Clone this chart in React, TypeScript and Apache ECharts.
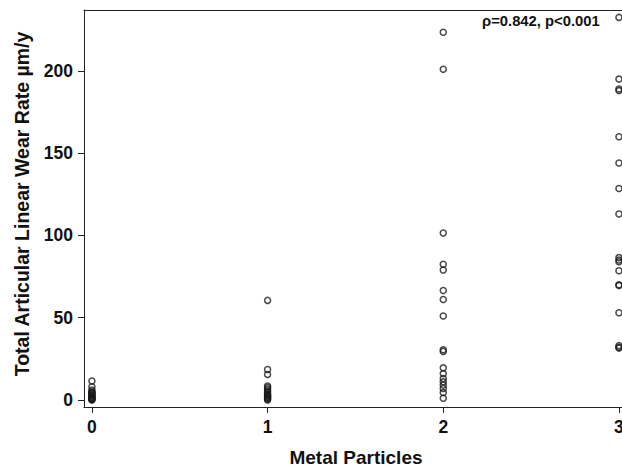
import React, { useEffect, useRef } from "react";
import * as echarts from "echarts";

// Wear rate (µm/y) per metal particle grade
const grade0: number[] = [11.5, 8, 6, 5, 4.5, 4, 3.5, 3, 2.5, 2, 1.5, 1, 0.8, 0.5, 0.3, 0];
const grade1: number[] = [60.5, 18.5, 15.5, 8.5, 7.5, 6.5, 5.5, 4.5, 3.5, 3, 2.5, 2, 1.5, 1, 0.5, 0];
const grade2: number[] = [223.5, 201, 101.5, 82.5, 79, 66.5, 61, 51, 30.5, 29.5, 19.5, 16, 13, 11, 9, 7, 4.5, 1];
const grade3: number[] = [232.5, 195, 189, 188, 160, 144, 128.5, 113, 86.5, 85, 84, 78.5, 70, 69.5, 53, 33, 32, 31.5];
const grades: number[][] = [grade0, grade1, grade2, grade3];
const xTicks: number[] = [0, 1, 2, 3];
const yTicks: number[] = [0, 50, 100, 150, 200];
const annotation = "ρ=0.842, p<0.001";
const xTitle = "Metal Particles";
const yTitle = "Total Articular Linear Wear Rate µm/y";

const FONT = "'Liberation Sans', Arial, sans-serif";
const X_MIN = -0.045;
const X_MAX = 3.063;

export default function App() {
  const ref = useRef<HTMLDivElement>(null);
  useEffect(() => {
    if (!ref.current) return;
    const chart = echarts.init(ref.current, undefined, { renderer: "svg" });
    const points: number[][] = [];
    grades.forEach((vals, g) => vals.forEach((v) => points.push([g, v])));
    const lineStyle = { color: "#222", width: 1 };
    chart.setOption({
      animation: false,
      backgroundColor: "#fff",
      grid: {
        left: 84,
        top: 10,
        width: 546,
        height: 397,
        outerBoundsMode: "none",
        containLabel: false,
        show: false,
      },
      xAxis: [
        {
          type: "value",
          min: X_MIN,
          max: X_MAX,
          position: "bottom",
          splitLine: { show: false },
          axisLine: { show: true, onZero: false, lineStyle },
          axisTick: { show: true, length: 6, lineStyle: { color: "#222" }, customValues: xTicks },
          axisLabel: {
            customValues: xTicks,
            margin: 11,
            color: "#111",
            fontFamily: FONT,
            fontWeight: "bold",
            fontSize: 17.5,
          },
        },
        {
          type: "value",
          min: X_MIN,
          max: X_MAX,
          position: "top",
          splitLine: { show: false },
          axisLine: { show: true, onZero: false, lineStyle },
          axisTick: { show: false },
          axisLabel: { show: false },
        },
      ],
      yAxis: {
        type: "value",
        min: -4.3,
        max: 237,
        splitLine: { show: false },
        axisLine: { show: true, onZero: false, lineStyle },
        axisTick: { show: true, length: 6, lineStyle: { color: "#222" }, customValues: yTicks },
        axisLabel: {
          customValues: yTicks,
          margin: 11,
          color: "#111",
          fontFamily: FONT,
          fontWeight: "bold",
          fontSize: 17.5,
        },
      },
      series: [
        {
          type: "scatter",
          xAxisIndex: 0,
          data: points,
          symbol: "circle",
          symbolSize: 6,
          itemStyle: { color: "rgba(0,0,0,0)", borderColor: "#1a1a1a", borderWidth: 1.5 },
          clip: false,
        },
      ],
      graphic: [
        {
          type: "text",
          x: 482,
          y: 21,
          style: {
            text: annotation,
            fontFamily: FONT,
            fontWeight: "bold",
            fontSize: 14.8,
            fill: "#111",
            verticalAlign: "middle",
            align: "left",
          },
        },
        {
          type: "text",
          x: 356,
          y: 457,
          style: {
            text: xTitle,
            fontFamily: FONT,
            fontWeight: "bold",
            fontSize: 19,
            fill: "#111",
            verticalAlign: "middle",
            align: "center",
          },
        },
        {
          type: "text",
          x: 22,
          y: 204,
          rotation: Math.PI / 2,
          style: {
            text: yTitle,
            fontFamily: FONT,
            fontWeight: "bold",
            fontSize: 19.5,
            fill: "#111",
            verticalAlign: "middle",
            align: "center",
          },
        },
      ],
    });
    return () => chart.dispose();
  }, []);
  return (
    <div
      ref={ref}
      style={{ position: "absolute", left: 0, top: 0, width: 622, height: 469 }}
    />
  );
}
